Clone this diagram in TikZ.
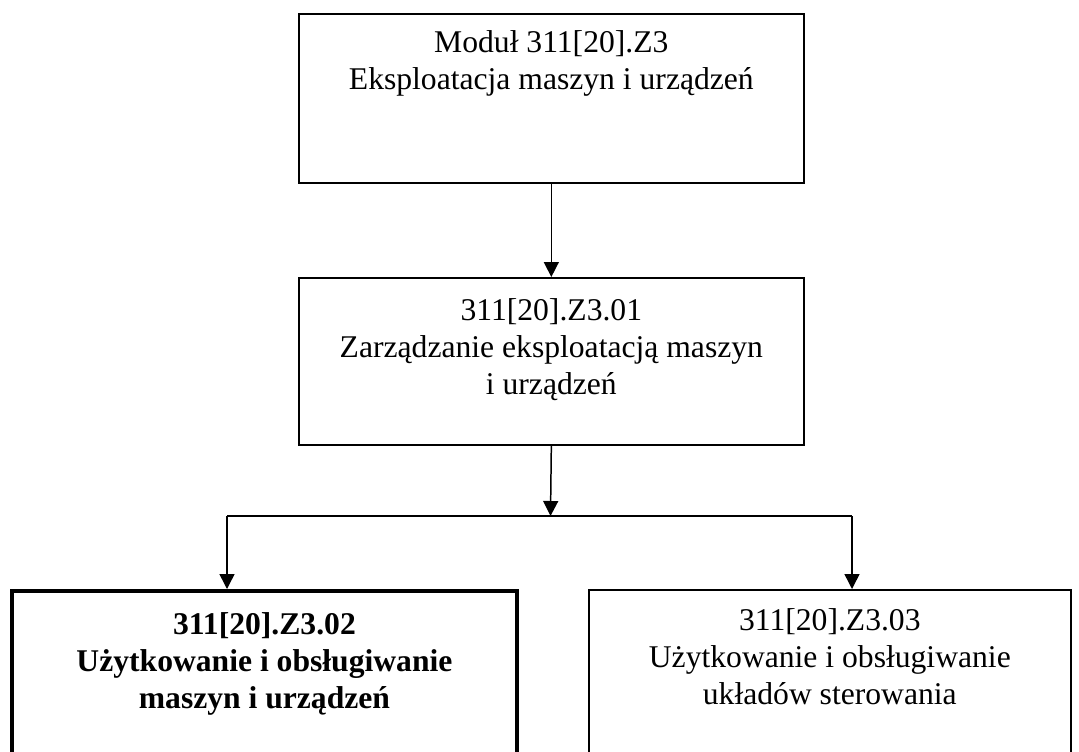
\documentclass[tikz,border=0pt]{standalone}
\usepackage{fontspec}
\setmainfont{Liberation Serif}
\usepackage{tikz}
\usetikzlibrary{arrows.meta}
\usetikzlibrary{positioning}

\tikzset{
  modbox/.style={draw, line width=1pt, rectangle, inner sep=0pt, anchor=north west},
  boldbox/.style={modbox, line width=2.3pt},
  boxtext/.style={align=center, inner sep=0pt, font=\fontsize{18}{21}\selectfont},
  conn/.style={line width=0.85pt, -{Triangle[length=0.3cm,width=0.3cm]}}
}

\begin{document}
\begin{tikzpicture}[x=0.02cm, y=-0.02cm]
    \useasboundingbox (0,0) rectangle (1079,751);
    \clip (0,0) rectangle (1079,751);

    % modul
    \node[modbox, minimum width=10.1cm, minimum height=3.38cm] (modul) at (298,13) {};
    \node[boxtext, below=0.34cm of modul.north] (modultxt) {Moduł 311[20].Z3\\Eksploatacja maszyn i urządzeń};

    % Z3.01
    \node[modbox, minimum width=10.1cm, minimum height=3.34cm] (zarz) at (298,277) {};
    \node[boxtext, below=0.42cm of zarz.north] (zarztxt) {311[20].Z3.01\\Zarządzanie eksploatacją maszyn\\i urządzeń};

    % Z3.02
    \node[boldbox, minimum width=10.1cm, minimum height=4cm] (uzyt) at (10,589) {};
    \node[boxtext, below=0.46cm of uzyt.north] (uzyttxt) {\bfseries 311[20].Z3.02\\\bfseries Użytkowanie i obsługiwanie\\\bfseries maszyn i urządzeń};

    % Z3.03
    \node[modbox, minimum width=9.64cm, minimum height=4cm] (ster) at (588,589) {};
    \node[boxtext, below=0.38cm of ster.north] (stertxt) {311[20].Z3.03\\Użytkowanie i obsługiwanie\\układów sterowania};

    % connectors
    \coordinate (split) at (550.5,516);
    \coordinate (lbranch) at (227,516);
    \coordinate (rbranch) at (852,516);
    \draw[conn] (modul.south) -- (zarz.north);
    \draw[conn] (zarz.south) -- (split);
    \draw[line width=0.85pt] (lbranch) -- (rbranch);
    \draw[conn] (lbranch) -- (lbranch |- uzyt.north);
    \draw[conn] (rbranch) -- (rbranch |- ster.north);
\end{tikzpicture}
\end{document}
